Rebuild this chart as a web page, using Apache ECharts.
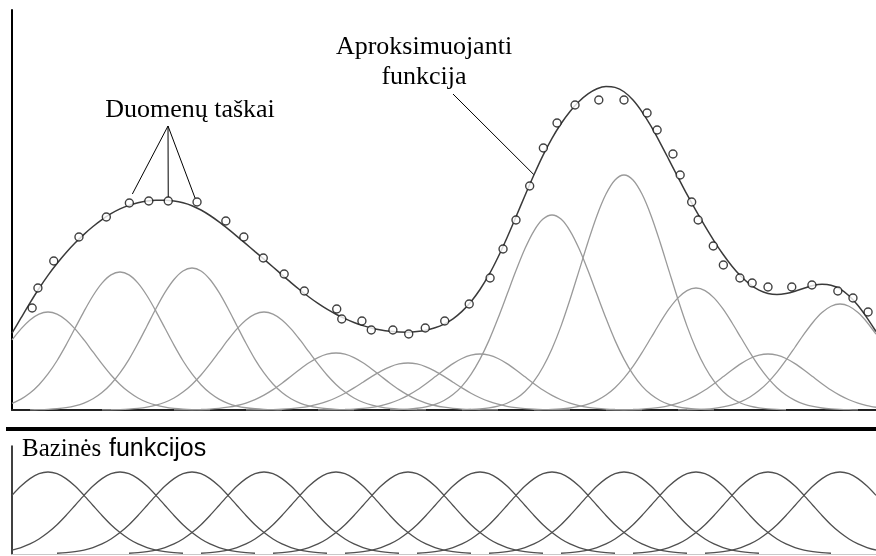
<!DOCTYPE html>
<html><head><meta charset="utf-8">
<script src="https://cdn.jsdelivr.net/npm/echarts@6/dist/echarts.min.js"></script>
<style>html,body{margin:0;padding:0;background:#fff}#c{width:876px;height:556px}</style>
</head><body><div id="c"></div>
<script>
// ---- data ----
const basisCenters = [0.5, 1.5, 2.5, 3.5, 4.5, 5.5, 6.5, 7.5, 8.5, 9.5, 10.5, 11.5];
const basisWeights = [0.98, 1.38, 1.42, 0.98, 0.57, 0.47, 0.56, 1.95, 2.35, 1.22, 0.56, 1.06];
// shape of one basis function (lower panel), value at distance 0, 0.125, 0.25, ... from its centre
const profileStep = 0.125;
const basisProfile = [1, 0.979, 0.919, 0.828, 0.715, 0.592, 0.470, 0.357, 0.261, 0.183, 0.1225,
  0.0789, 0.0486, 0.0288, 0.0163, 0.0089, 0.0046, 0.0023, 0.0011];
const pointX = [0.28, 0.36, 0.58, 0.93, 1.31, 1.63, 1.90, 2.17, 2.57, 2.97, 3.22, 3.49, 3.78, 4.06,
  4.51, 4.58, 4.86, 4.99, 5.29, 5.51, 5.74, 6.01, 6.35, 6.64, 6.82, 7.00, 7.19, 7.38, 7.57, 7.82,
  8.15, 8.50, 8.82, 8.96, 9.18, 9.28, 9.44, 9.53, 9.74, 9.88, 10.11, 10.28, 10.50, 10.83, 11.11,
  11.47, 11.68, 11.89];
const pointY = [1.02, 1.22, 1.49, 1.73, 1.93, 2.07, 2.09, 2.09, 2.08, 1.89, 1.73, 1.52, 1.36, 1.19,
  1.01, 0.91, 0.89, 0.80, 0.80, 0.76, 0.82, 0.89, 1.06, 1.32, 1.61, 1.90, 2.24, 2.62, 2.87, 3.05,
  3.10, 3.10, 2.97, 2.80, 2.56, 2.35, 2.08, 1.90, 1.64, 1.45, 1.32, 1.27, 1.23, 1.23, 1.25,
  1.19, 1.12, 0.98];
const xMin = 0, xMax = 12;
const labelPoints = "Duomenų taškai";
const labelApprox = ["Aproksimuojanti", "funkcija"];
const labelBasis = ["Bazinės", "funkcijos"];

// ---- build curves from the read values ----
const nSteps = Math.round((xMax - xMin) / profileStep);
function basisCurve(center, weight, reach) {
  const out = [];
  for (let i = 0; i <= nSteps; i++) {
    const x = xMin + i * profileStep;
    const k = Math.round(Math.abs(x - center) / profileStep);
    if (k * profileStep > reach || k >= basisProfile.length) continue;
    out.push([x, weight * basisProfile[k]]);
  }
  return out;
}
const approx = [];
for (let i = 0; i <= nSteps; i++) {
  const x = xMin + i * profileStep;
  let s = 0;
  basisCenters.forEach((c, j) => {
    const k = Math.round(Math.abs(x - c) / profileStep);
    if (k < basisProfile.length) s += basisWeights[j] * basisProfile[k];
  });
  approx.push([x, s]);
}

const series = [];
basisCenters.forEach((c, j) => {
  series.push({type: 'line', xAxisIndex: 0, yAxisIndex: 0, data: basisCurve(c, basisWeights[j], 2.25),
    showSymbol: false, smooth: 0.3, lineStyle: {color: '#9a9a9a', width: 1.3}, z: 2, silent: true});
  series.push({type: 'line', xAxisIndex: 1, yAxisIndex: 1, data: basisCurve(c, 1, 1.875),
    showSymbol: false, smooth: 0.3, lineStyle: {color: '#505050', width: 1.3}, z: 2, silent: true});
});
series.push({type: 'line', xAxisIndex: 0, yAxisIndex: 0, data: approx, showSymbol: false, smooth: 0.3,
  lineStyle: {color: '#3a3a3a', width: 1.5}, z: 3, silent: true});
series.push({type: 'scatter', xAxisIndex: 0, yAxisIndex: 0, data: pointX.map((x, i) => [x, pointY[i]]),
  symbol: 'circle', symbolSize: 8, itemStyle: {color: '#fff', borderColor: '#111', borderWidth: 1.4}, z: 4, silent: true});

const hidden = {axisTick: {show: false}, axisLabel: {show: false}, splitLine: {show: false}};
const chart = echarts.init(document.getElementById('c'), null, {renderer: 'canvas'});
chart.setOption({
  animation: false,
  backgroundColor: '#fff',
  grid: [
    {left: 12, right: 0, top: 10, height: 400},
    {left: 12, right: 0, top: 446, height: 108}
  ],
  xAxis: [
    Object.assign({type: 'value', gridIndex: 0, min: xMin, max: xMax,
      axisLine: {show: true, onZero: false, lineStyle: {color: '#222', width: 2}}}, hidden),
    Object.assign({type: 'value', gridIndex: 1, min: xMin, max: xMax,
      axisLine: {show: true, onZero: false, lineStyle: {color: '#c8c8c8', width: 1}}}, hidden)
  ],
  yAxis: [
    Object.assign({type: 'value', gridIndex: 0, min: 0, max: 4,
      axisLine: {show: true, onZero: false, lineStyle: {color: '#000', width: 2}}}, hidden),
    Object.assign({type: 'value', gridIndex: 1, min: 0, max: 1.317,
      axisLine: {show: true, onZero: false, lineStyle: {color: '#000', width: 1.5}}}, hidden)
  ],
  series: series
});

const px = (x, y) => chart.convertToPixel({gridIndex: 0}, [x, y]);
const p5 = px(pointX[5], pointY[5]), p7 = px(pointX[7], pointY[7]), p8 = px(pointX[8], pointY[8]);
const a = approx[58];
const pa = px(a[0], a[1]);
const apex = [168, 126];
const serif = '"Liberation Serif", "Times New Roman", serif';
const sans = '"Liberation Sans", Arial, sans-serif';
chart.setOption({
  graphic: [
    {type: 'line', shape: {x1: 6, y1: 429, x2: 876, y2: 429}, style: {stroke: '#000', lineWidth: 4}},
    {type: 'line', shape: {x1: apex[0], y1: apex[1], x2: p5[0] + 3, y2: p5[1] - 9}, style: {stroke: '#000', lineWidth: 1}},
    {type: 'line', shape: {x1: apex[0], y1: apex[1], x2: p7[0], y2: p7[1] - 4}, style: {stroke: '#000', lineWidth: 1}},
    {type: 'line', shape: {x1: apex[0], y1: apex[1], x2: p8[0] - 2, y2: p8[1] - 4}, style: {stroke: '#000', lineWidth: 1}},
    {type: 'line', shape: {x1: 453, y1: 94, x2: pa[0], y2: pa[1]}, style: {stroke: '#000', lineWidth: 1}},
    {type: 'text', x: 190, y: 110, style: {text: labelPoints, font: '26px ' + serif, fill: '#000', align: 'center', verticalAlign: 'middle'}},
    {type: 'text', x: 424, y: 47, style: {text: labelApprox[0], font: '26px ' + serif, fill: '#000', align: 'center', verticalAlign: 'middle'}},
    {type: 'text', x: 424, y: 77, style: {text: labelApprox[1], font: '26px ' + serif, fill: '#000', align: 'center', verticalAlign: 'middle'}},
    {type: 'text', x: 22, y: 449, style: {text: labelBasis[0], font: '25px ' + serif, fill: '#000', align: 'left', verticalAlign: 'middle'}},
    {type: 'text', x: 109, y: 449, style: {text: labelBasis[1], font: '25px ' + sans, fill: '#000', align: 'left', verticalAlign: 'middle'}}
  ]
});
</script></body></html>
